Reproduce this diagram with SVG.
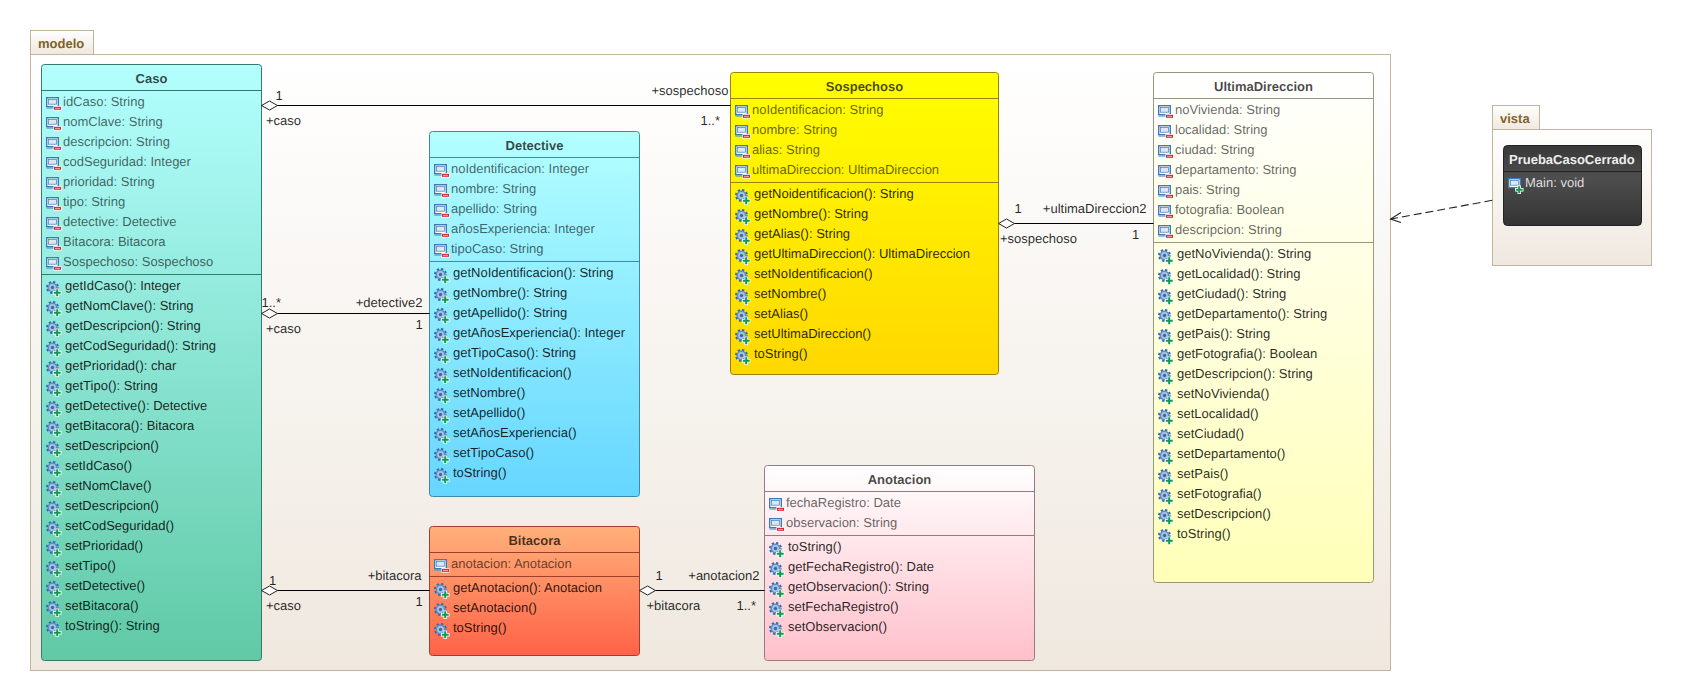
<svg xmlns="http://www.w3.org/2000/svg" width="1682" height="700" viewBox="0 0 1682 700">
<style>
text{font-family:"Liberation Sans",Arial,sans-serif;font-size:13px;text-rendering:geometricPrecision}
.t{font-weight:bold;text-anchor:middle;fill:#000;fill-opacity:.72}
.a{fill:#000;fill-opacity:.62}
.m{fill:#000;fill-opacity:.85}
.p{font-weight:bold;fill:#7f6228}
.l{fill:#000;fill-opacity:.85}
.e{text-anchor:end}
.c{fill:none;stroke:#000;stroke-width:1.1}
.d{fill:#fff;stroke:#222;stroke-width:1}
</style>
<defs>
<linearGradient id="gP" x1="0" y1="0" x2="0" y2="1"><stop offset="0" stop-color="#fff"/><stop offset="1" stop-color="#efe8df"/></linearGradient>
<linearGradient id="gCaso" x1="0" y1="0" x2="0" y2="1"><stop offset="0" stop-color="#b3ffff"/><stop offset="1" stop-color="#60c9a5"/></linearGradient>
<linearGradient id="gDet" x1="0" y1="0" x2="0" y2="1"><stop offset="0" stop-color="#b3ffff"/><stop offset="1" stop-color="#66d6ff"/></linearGradient>
<linearGradient id="gSos" x1="0" y1="0" x2="0" y2="1"><stop offset="0" stop-color="#ffff00"/><stop offset="1" stop-color="#ffd700"/></linearGradient>
<linearGradient id="gUlt" x1="0" y1="0" x2="0" y2="1"><stop offset="0" stop-color="#fff"/><stop offset="1" stop-color="#ffffb8"/></linearGradient>
<linearGradient id="gBit" x1="0" y1="0" x2="0" y2="1"><stop offset="0" stop-color="#ffb07a"/><stop offset="1" stop-color="#ff6347"/></linearGradient>
<linearGradient id="gAno" x1="0" y1="0" x2="0" y2="1"><stop offset="0" stop-color="#fff"/><stop offset="1" stop-color="#ffc0cb"/></linearGradient>
<linearGradient id="gPru" x1="0" y1="0" x2="0" y2="1"><stop offset="0" stop-color="#383838"/><stop offset=".4" stop-color="#4e4e4e"/><stop offset="1" stop-color="#343434"/></linearGradient>
<g id="ia">
<rect x="0.7" y="0.7" width="11.6" height="9" fill="#fff" stroke="#3d7ab8" stroke-width="1.4"/>
<rect x="2.6" y="2.6" width="7.8" height="4.6" fill="#d9e8f6" stroke="#3d7ab8" stroke-width=".7"/>
<rect x="0.5" y="10.6" width="10" height="1" fill="#5a92c8"/>
<rect x="7.5" y="9" width="8" height="4.6" fill="#fff"/>
<rect x="8" y="9.8" width="7" height="3" fill="#d8232f"/>
<rect x="9" y="10.9" width="5" height=".9" fill="#f6b5b8"/>
</g>
<g id="plus">
<path d="M9.500 7.500h3.500v2.500h2.500v3.500H13V16H9.500v-2.500H7V10h2.500z" fill="#fff"/>
<path d="M10.200 8.300h2v2.500h2.500v2h-2.500v2.400h-2v-2.400H7.800v-2h2.400z" fill="#0d9a55"/>
</g>
<g id="ip">
<rect x="0.7" y="0.7" width="11.6" height="9" fill="#fff" stroke="#3d7ab8" stroke-width="1.4"/>
<rect x="2.6" y="2.6" width="7.8" height="4.6" fill="#d9e8f6" stroke="#3d7ab8" stroke-width=".7"/>
<use href="#plus"/>
</g>
<g id="im">
<circle cx="6.500" cy="6.500" r="5.500" fill="none" stroke="#2c68ad" stroke-width="2" stroke-dasharray="2.300 2"/>
<circle cx="6.500" cy="6.500" r="5" fill="#5f8cc4"/>
<circle cx="6.500" cy="6.500" r="3.400" fill="#a9c4e2"/>
<circle cx="6.500" cy="6.500" r="1.700" fill="#3a6aa8"/>
<use href="#plus"/>
</g>
</defs>

<g id="pkg-modelo">
<rect x="30.5" y="30.5" width="63" height="24" fill="url(#gP)" stroke="#c2b59b"/>
<rect x="30.5" y="54.5" width="1360" height="616" fill="url(#gP)" stroke="#c2b59b"/>
<text class="p" x="38" y="48">modelo</text>
</g>
<g id="pkg-vista">
<rect x="1492.5" y="105.5" width="47" height="24" fill="url(#gP)" stroke="#c2b59b"/>
<rect x="1492.5" y="129.5" width="159" height="136" fill="url(#gP)" stroke="#c2b59b"/>
<text class="p" x="1500" y="123">vista</text>
</g>

<g id="Caso">
<rect x="41.5" y="64.5" width="220" height="596" rx="3" fill="url(#gCaso)" stroke="#367a6a"/>
<path d="M41.5 90.5H261.5M41.5 274.5H261.5" stroke="#367a6a" fill="none"/>
<text class="t" x="151.5" y="83">Caso</text>
<use href="#ia" x="46" y="97"/><text class="a" x="63" y="106">idCaso: String</text>
<use href="#ia" x="46" y="117"/><text class="a" x="63" y="126">nomClave: String</text>
<use href="#ia" x="46" y="137"/><text class="a" x="63" y="146">descripcion: String</text>
<use href="#ia" x="46" y="157"/><text class="a" x="63" y="166">codSeguridad: Integer</text>
<use href="#ia" x="46" y="177"/><text class="a" x="63" y="186">prioridad: String</text>
<use href="#ia" x="46" y="197"/><text class="a" x="63" y="206">tipo: String</text>
<use href="#ia" x="46" y="217"/><text class="a" x="63" y="226">detective: Detective</text>
<use href="#ia" x="46" y="237"/><text class="a" x="63" y="246">Bitacora: Bitacora</text>
<use href="#ia" x="46" y="257"/><text class="a" x="63" y="266">Sospechoso: Sospechoso</text>
<use href="#im" x="46" y="281"/><text class="m" x="65" y="290">getIdCaso(): Integer</text>
<use href="#im" x="46" y="301"/><text class="m" x="65" y="310">getNomClave(): String</text>
<use href="#im" x="46" y="321"/><text class="m" x="65" y="330">getDescripcion(): String</text>
<use href="#im" x="46" y="341"/><text class="m" x="65" y="350">getCodSeguridad(): String</text>
<use href="#im" x="46" y="361"/><text class="m" x="65" y="370">getPrioridad(): char</text>
<use href="#im" x="46" y="381"/><text class="m" x="65" y="390">getTipo(): String</text>
<use href="#im" x="46" y="401"/><text class="m" x="65" y="410">getDetective(): Detective</text>
<use href="#im" x="46" y="421"/><text class="m" x="65" y="430">getBitacora(): Bitacora</text>
<use href="#im" x="46" y="441"/><text class="m" x="65" y="450">setDescripcion()</text>
<use href="#im" x="46" y="461"/><text class="m" x="65" y="470">setIdCaso()</text>
<use href="#im" x="46" y="481"/><text class="m" x="65" y="490">setNomClave()</text>
<use href="#im" x="46" y="501"/><text class="m" x="65" y="510">setDescripcion()</text>
<use href="#im" x="46" y="521"/><text class="m" x="65" y="530">setCodSeguridad()</text>
<use href="#im" x="46" y="541"/><text class="m" x="65" y="550">setPrioridad()</text>
<use href="#im" x="46" y="561"/><text class="m" x="65" y="570">setTipo()</text>
<use href="#im" x="46" y="581"/><text class="m" x="65" y="590">setDetective()</text>
<use href="#im" x="46" y="601"/><text class="m" x="65" y="610">setBitacora()</text>
<use href="#im" x="46" y="621"/><text class="m" x="65" y="630">toString(): String</text>
</g>

<g id="Detective">
<rect x="429.5" y="131.5" width="210" height="365" rx="3" fill="url(#gDet)" stroke="#3d8aa5"/>
<path d="M429.5 157.5H639.5M429.5 261.5H639.5" stroke="#3d8aa5" fill="none"/>
<text class="t" x="534.5" y="150">Detective</text>
<use href="#ia" x="434" y="164"/><text class="a" x="451" y="173">noIdentificacion: Integer</text>
<use href="#ia" x="434" y="184"/><text class="a" x="451" y="193">nombre: String</text>
<use href="#ia" x="434" y="204"/><text class="a" x="451" y="213">apellido: String</text>
<use href="#ia" x="434" y="224"/><text class="a" x="451" y="233">añosExperiencia: Integer</text>
<use href="#ia" x="434" y="244"/><text class="a" x="451" y="253">tipoCaso: String</text>
<use href="#im" x="434" y="268"/><text class="m" x="453" y="277">getNoIdentificacion(): String</text>
<use href="#im" x="434" y="288"/><text class="m" x="453" y="297">getNombre(): String</text>
<use href="#im" x="434" y="308"/><text class="m" x="453" y="317">getApellido(): String</text>
<use href="#im" x="434" y="328"/><text class="m" x="453" y="337">getAñosExperiencia(): Integer</text>
<use href="#im" x="434" y="348"/><text class="m" x="453" y="357">getTipoCaso(): String</text>
<use href="#im" x="434" y="368"/><text class="m" x="453" y="377">setNoIdentificacion()</text>
<use href="#im" x="434" y="388"/><text class="m" x="453" y="397">setNombre()</text>
<use href="#im" x="434" y="408"/><text class="m" x="453" y="417">setApellido()</text>
<use href="#im" x="434" y="428"/><text class="m" x="453" y="437">setAñosExperiencia()</text>
<use href="#im" x="434" y="448"/><text class="m" x="453" y="457">setTipoCaso()</text>
<use href="#im" x="434" y="468"/><text class="m" x="453" y="477">toString()</text>
</g>

<g id="Sospechoso">
<rect x="730.5" y="72.5" width="268" height="302" rx="3" fill="url(#gSos)" stroke="#9a8300"/>
<path d="M730.5 98.5H998.5M730.5 182.5H998.5" stroke="#9a8300" fill="none"/>
<text class="t" x="864.5" y="91">Sospechoso</text>
<use href="#ia" x="735" y="105"/><text class="a" x="752" y="114">noIdentificacion: String</text>
<use href="#ia" x="735" y="125"/><text class="a" x="752" y="134">nombre: String</text>
<use href="#ia" x="735" y="145"/><text class="a" x="752" y="154">alias: String</text>
<use href="#ia" x="735" y="165"/><text class="a" x="752" y="174">ultimaDireccion: UltimaDireccion</text>
<use href="#im" x="735" y="189"/><text class="m" x="754" y="198">getNoidentificacion(): String</text>
<use href="#im" x="735" y="209"/><text class="m" x="754" y="218">getNombre(): String</text>
<use href="#im" x="735" y="229"/><text class="m" x="754" y="238">getAlias(): String</text>
<use href="#im" x="735" y="249"/><text class="m" x="754" y="258">getUltimaDireccion(): UltimaDireccion</text>
<use href="#im" x="735" y="269"/><text class="m" x="754" y="278">setNoIdentificacion()</text>
<use href="#im" x="735" y="289"/><text class="m" x="754" y="298">setNombre()</text>
<use href="#im" x="735" y="309"/><text class="m" x="754" y="318">setAlias()</text>
<use href="#im" x="735" y="329"/><text class="m" x="754" y="338">setUltimaDireccion()</text>
<use href="#im" x="735" y="349"/><text class="m" x="754" y="358">toString()</text>
</g>

<g id="UltimaDireccion">
<rect x="1153.5" y="72.5" width="220" height="510" rx="3" fill="url(#gUlt)" stroke="#98987c"/>
<path d="M1153.5 98.5H1373.5M1153.5 242.5H1373.5" stroke="#98987c" fill="none"/>
<text class="t" x="1263.5" y="91">UltimaDireccion</text>
<use href="#ia" x="1158" y="105"/><text class="a" x="1175" y="114">noVivienda: String</text>
<use href="#ia" x="1158" y="125"/><text class="a" x="1175" y="134">localidad: String</text>
<use href="#ia" x="1158" y="145"/><text class="a" x="1175" y="154">ciudad: String</text>
<use href="#ia" x="1158" y="165"/><text class="a" x="1175" y="174">departamento: String</text>
<use href="#ia" x="1158" y="185"/><text class="a" x="1175" y="194">pais: String</text>
<use href="#ia" x="1158" y="205"/><text class="a" x="1175" y="214">fotografia: Boolean</text>
<use href="#ia" x="1158" y="225"/><text class="a" x="1175" y="234">descripcion: String</text>
<use href="#im" x="1158" y="249"/><text class="m" x="1177" y="258">getNoVivienda(): String</text>
<use href="#im" x="1158" y="269"/><text class="m" x="1177" y="278">getLocalidad(): String</text>
<use href="#im" x="1158" y="289"/><text class="m" x="1177" y="298">getCiudad(): String</text>
<use href="#im" x="1158" y="309"/><text class="m" x="1177" y="318">getDepartamento(): String</text>
<use href="#im" x="1158" y="329"/><text class="m" x="1177" y="338">getPais(): String</text>
<use href="#im" x="1158" y="349"/><text class="m" x="1177" y="358">getFotografia(): Boolean</text>
<use href="#im" x="1158" y="369"/><text class="m" x="1177" y="378">getDescripcion(): String</text>
<use href="#im" x="1158" y="389"/><text class="m" x="1177" y="398">setNoVivienda()</text>
<use href="#im" x="1158" y="409"/><text class="m" x="1177" y="418">setLocalidad()</text>
<use href="#im" x="1158" y="429"/><text class="m" x="1177" y="438">setCiudad()</text>
<use href="#im" x="1158" y="449"/><text class="m" x="1177" y="458">setDepartamento()</text>
<use href="#im" x="1158" y="469"/><text class="m" x="1177" y="478">setPais()</text>
<use href="#im" x="1158" y="489"/><text class="m" x="1177" y="498">setFotografia()</text>
<use href="#im" x="1158" y="509"/><text class="m" x="1177" y="518">setDescripcion()</text>
<use href="#im" x="1158" y="529"/><text class="m" x="1177" y="538">toString()</text>
</g>

<g id="Bitacora">
<rect x="429.5" y="526.5" width="210" height="129" rx="3" fill="url(#gBit)" stroke="#a0402c"/>
<path d="M429.5 552.5H639.5M429.5 576.5H639.5" stroke="#a0402c" fill="none"/>
<text class="t" x="534.5" y="545">Bitacora</text>
<use href="#ia" x="434" y="559"/><text class="a" x="451" y="568">anotacion: Anotacion</text>
<use href="#im" x="434" y="583"/><text class="m" x="453" y="592">getAnotacion(): Anotacion</text>
<use href="#im" x="434" y="603"/><text class="m" x="453" y="612">setAnotacion()</text>
<use href="#im" x="434" y="623"/><text class="m" x="453" y="632">toString()</text>
</g>

<g id="Anotacion">
<rect x="764.5" y="465.5" width="270" height="195" rx="3" fill="url(#gAno)" stroke="#9a7a80"/>
<path d="M764.5 491.5H1034.5M764.5 535.5H1034.5" stroke="#9a7a80" fill="none"/>
<text class="t" x="899.5" y="484">Anotacion</text>
<use href="#ia" x="769" y="498"/><text class="a" x="786" y="507">fechaRegistro: Date</text>
<use href="#ia" x="769" y="518"/><text class="a" x="786" y="527">observacion: String</text>
<use href="#im" x="769" y="542"/><text class="m" x="788" y="551">toString()</text>
<use href="#im" x="769" y="562"/><text class="m" x="788" y="571">getFechaRegistro(): Date</text>
<use href="#im" x="769" y="582"/><text class="m" x="788" y="591">getObservacion(): String</text>
<use href="#im" x="769" y="602"/><text class="m" x="788" y="611">setFechaRegistro()</text>
<use href="#im" x="769" y="622"/><text class="m" x="788" y="631">setObservacion()</text>
</g>

<g id="PruebaCasoCerrado">
<rect x="1503.5" y="145.5" width="138" height="80" rx="4" fill="url(#gPru)" stroke="#222"/>
<path d="M1503.5 171.5H1641.5" stroke="#222" fill="none"/>
<text x="1509" y="164" font-weight="bold" fill="#eee">PruebaCasoCerrado</text>
<use href="#ip" x="1508" y="178"/><text x="1525" y="187" fill="#ddd">Main: void</text>
</g>

<g id="connectors">
<path class="c" d="M277 105.5H730.5M277 313.5H429.5M277 590.5H429.5M655 590.5H764.5M1014 223.5H1153.5"/>
<path class="d" d="M261.500 105.500l8-4.500 8 4.500-8 4.500z"/>
<path class="d" d="M261.500 313.500l8-4.500 8 4.500-8 4.500z"/>
<path class="d" d="M261.500 590.500l8-4.500 8 4.500-8 4.500z"/>
<path class="d" d="M639.500 590.500l8-4.500 8 4.500-8 4.500z"/>
<path class="d" d="M998.500 223.500l8-4.500 8 4.500-8 4.500z"/>
<path d="M1492.300 200.300L1391 219" fill="none" stroke="#222" stroke-width="1.100" stroke-dasharray="8 4"/>
<path d="M1401 212.500L1390.500 219 1401 222.500" fill="none" stroke="#222" stroke-width="1.100"/>
<text class="l" x="275.500" y="100">1</text>
<text class="l" x="266" y="125">+caso</text>
<text class="l e" x="728.500" y="95">+sospechoso</text>
<text class="l" x="700.500" y="125">1..*</text>
<text class="l" x="261.500" y="307">1..*</text>
<text class="l" x="266" y="333">+caso</text>
<text class="l e" x="422.500" y="307">+detective2</text>
<text class="l" x="415.500" y="329">1</text>
<text class="l" x="269" y="585">1</text>
<text class="l" x="266" y="610">+caso</text>
<text class="l e" x="421.500" y="580">+bitacora</text>
<text class="l" x="415.500" y="606">1</text>
<text class="l" x="655.500" y="580">1</text>
<text class="l e" x="759.500" y="580">+anotacion2</text>
<text class="l" x="646.500" y="610">+bitacora</text>
<text class="l" x="736.500" y="610">1..*</text>
<text class="l" x="1014.500" y="213">1</text>
<text class="l e" x="1146.500" y="213">+ultimaDireccion2</text>
<text class="l" x="1000" y="243">+sospechoso</text>
<text class="l" x="1132" y="239">1</text>
</g>
</svg>
